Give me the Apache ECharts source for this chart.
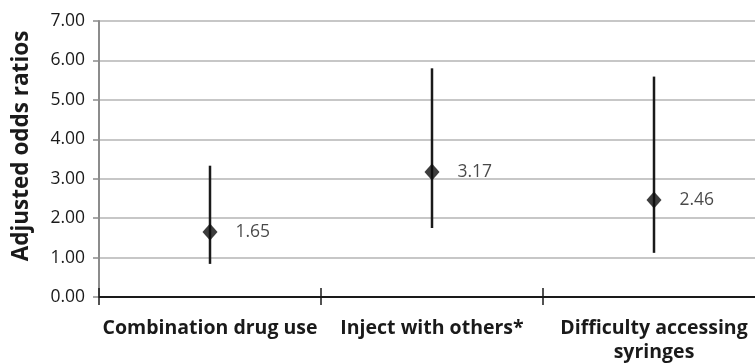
<!DOCTYPE html>
<html><head><meta charset="utf-8">
<script src="https://cdn.jsdelivr.net/npm/echarts@6/dist/echarts.min.js"></script>
<style>html,body{margin:0;padding:0;background:#fff}#c{width:755px;height:363px}</style>
</head><body><div id="c"></div>
<script>
var categories = ['Combination drug use', 'Inject with others*', 'Difficulty accessing\nsyringes'];
var oddsRatios = [1.65, 3.17, 2.46];
var ciLower = [0.84, 1.75, 1.12];
var ciUpper = [3.33, 5.80, 5.59];
var yTicks = {min: 0, max: 7, interval: 1};

var font = 'Open Sans';
var chart = echarts.init(document.getElementById('c'));
chart.setOption({
  animation: false,
  grid: {left: 99, top: 21, bottom: 66, right: -10, containLabel: false, outerBoundsMode: 'none'},
  xAxis: [{
    type: 'category', data: categories, boundaryGap: true,
    axisLine: {lineStyle: {color: '#1a1a1a', width: 2}},
    axisTick: {show: true, interval: 0, length: 8, lineStyle: {color: '#1a1a1a', width: 1.5}},
    axisLabel: {interval: 0, margin: 19, color: '#1a1a1a', fontFamily: font, fontWeight: 'bold', fontSize: 19.5, lineHeight: 24}
  }, {
    type: 'category', data: categories, position: 'bottom', boundaryGap: true,
    axisLine: {show: false},
    axisTick: {show: true, inside: true, interval: 0, length: 9, lineStyle: {color: '#1a1a1a', width: 1.5}},
    axisLabel: {show: false}
  }],
  yAxis: {
    type: 'value', min: yTicks.min, max: yTicks.max, interval: yTicks.interval,
    name: 'Adjusted odds ratios', nameLocation: 'middle', nameGap: 66,
    nameTextStyle: {fontFamily: font, fontWeight: 'bold', fontSize: 22.5, color: '#1a1a1a', padding: [0, 0, 0, 26]},
    axisLine: {show: true, lineStyle: {color: '#8c8c8c', width: 2}},
    axisTick: {show: true, length: 6, lineStyle: {color: '#8c8c8c', width: 1.5}},
    axisLabel: {formatter: function(v){return v.toFixed(2);}, margin: 14, color: '#1a1a1a', fontFamily: font, fontSize: 17.5},
    splitLine: {lineStyle: {color: '#b4b4b4', width: 1.5}}
  },
  series: [{
    type: 'custom',
    data: categories.map(function(c, i){return [i, ciLower[i], ciUpper[i]];}),
    renderItem: function(params, api){
      var lo = api.coord([api.value(0), api.value(1)]);
      var hi = api.coord([api.value(0), api.value(2)]);
      return {type: 'line', shape: {x1: lo[0], y1: lo[1], x2: hi[0], y2: hi[1]},
              style: {stroke: '#1a1a1a', lineWidth: 2.5}};
    },
    z: 2
  }, {
    type: 'scatter',
    data: oddsRatios.map(function(v, i){return [i, v];}),
    symbol: 'diamond', symbolSize: [15, 17],
    itemStyle: {color: '#0d0d0d'},
    label: {show: true, position: 'right', distance: 18, formatter: function(p){return p.value[1].toFixed(2);},
            color: '#1a1a1a', fontFamily: font, fontSize: 17.5},
    z: 3
  }]
});
</script></body></html>
